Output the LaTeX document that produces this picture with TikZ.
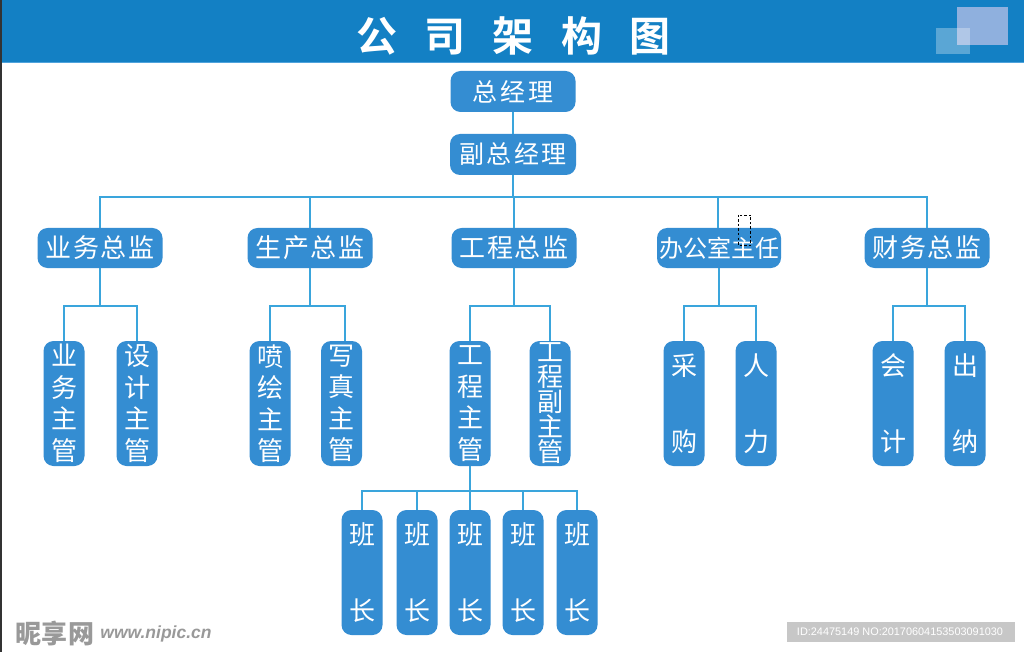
\documentclass[tikz,border=0pt]{standalone}
\usepackage{fontspec}
\newfontfamily\cjk{Noto Sans CJK SC}
\newfontfamily\cjkt[LetterSpace=67]{Noto Sans CJK SC Bold}
\newfontfamily\cjkw[LetterSpace=12]{Noto Sans CJK SC}
\newfontfamily\cjkm[LetterSpace=9]{Noto Sans CJK SC}
\newfontfamily\cjkn[LetterSpace=6]{Noto Sans CJK SC}
\setsansfont{Liberation Sans}
\definecolor{hdr}{HTML}{1380C4}
\definecolor{hdrline}{HTML}{4FA3DC}
\definecolor{boxc}{HTML}{348DD2}
\definecolor{linkc}{HTML}{3AA5DC}
\definecolor{sq}{HTML}{8FB0DE}
\tikzset{
  boxn/.style={fill=boxc,rounded corners=10pt,inner sep=0pt,text=white,align=center,anchor=center},
  hbox/.style={boxn,minimum width=125pt,minimum height=40pt},
  vbox/.style={boxn,minimum width=41pt,minimum height=125pt,font=\cjk\fontsize{26}{31.5}\selectfont},
  vwide/.style={font=\cjk\fontsize{26}{76}\selectfont},
  wide/.style={font=\cjkw\fontsize{25}{30}\selectfont},
  norm/.style={font=\cjkn\fontsize{26}{30}\selectfont},
  link/.style={draw=linkc,line width=1.5pt},
}
\begin{document}
\begin{tikzpicture}[x=1pt,y=-1pt]
\useasboundingbox (0,0) rectangle (1024,652);
\fill[white] (0,0) rectangle (1024,652);
\fill[black!80] (0,0) rectangle (1.5,652);
% header
\fill[hdr] (1.5,0) rectangle (1024,62);
\fill[hdrline] (1.5,62) rectangle (1024,63);
\fill[sq] (957,7) rectangle (1008,45);
\fill[white,opacity=.3] (936,28) rectangle (970,54);
\node[text=white,font=\cjkt\fontsize{41}{42}\selectfont,inner sep=0pt] (title) at (513.5,36) {公司架构图};
% top nodes
\node[hbox,minimum height=41pt,wide] (gm) at (513,91.5) {总经理};
\node[hbox,minimum height=41pt,font=\cjkm\fontsize{25}{30}\selectfont,minimum width=126pt] (dgm) at (513,154.5) {副总经理};
% directors
\node[hbox,norm] (d1) at (100,248) {业务总监};
\node[hbox,norm] (d2) at (310,248) {生产总监};
\node[hbox,norm] (d3) at (514,248) {工程总监};
\node[hbox,minimum width=124pt,font=\cjk\fontsize{24}{30}\selectfont] (d4) at (719,248) {办公室主任};
\node[hbox,norm] (d5) at (927,248) {财务总监};
% managers
\node[vbox] (m1) at (64,403.5) {业\\务\\主\\管};
\node[vbox] (m2) at (137,403.5) {设\\计\\主\\管};
\node[vbox] (m3) at (270,403.5) {喷\\绘\\主\\管};
\node[vbox] (m4) at (341.5,403.5) {写\\真\\主\\管};
\node[vbox] (m5) at (470,403.5) {工\\程\\主\\管};
\node[vbox,font=\cjk\fontsize{26}{25}\selectfont] (m6) at (550,403.5) {工\\程\\副\\主\\管};
\node[vbox,vwide] (m7) at (684,403.5) {采\\购};
\node[vbox,vwide] (m8) at (756,403.5) {人\\力};
\node[vbox,vwide] (m9) at (893,403.5) {会\\计};
\node[vbox,vwide] (m10) at (965,403.5) {出\\纳};
% team leaders
\node[vbox,vwide] (t1) at (362,572.5) {班\\长};
\node[vbox,vwide] (t2) at (417,572.5) {班\\长};
\node[vbox,vwide] (t3) at (470,572.5) {班\\长};
\node[vbox,vwide] (t4) at (523,572.5) {班\\长};
\node[vbox,vwide] (t5) at (577,572.5) {班\\长};
% bus coordinates
\coordinate (bus) at (513,197);
\coordinate (b1) at (100,306);
\coordinate (b2) at (310,306);
\coordinate (b3) at (514,306);
\coordinate (b4) at (719,306);
\coordinate (b5) at (927,306);
\coordinate (b6) at (470,491);
\coordinate (d4top) at (718,228);
\coordinate (m4top) at (345,341);
% connectors
\draw[link] (gm) -- (dgm);
\draw[link] (dgm.south) -- (bus);
\draw[link] (d1.north) |- (bus) -| (d5.north);
\draw[link] (d2.north) -- (d2.north |- bus);
\draw[link] (d3.north) -- (d3.north |- bus);
\draw[link] (d4top) -- (d4top |- bus);
\draw[link] (d1.south) -- (b1);
\draw[link] (d2.south) -- (b2);
\draw[link] (d3.south) -- (b3);
\draw[link] (d4.south) -- (b4);
\draw[link] (d5.south) -- (b5);
\draw[link] (m1.north) |- (b1) -| (m2.north);
\draw[link] (m3.north) |- (b2) -| (m4top);
\draw[link] (m5.north) |- (b3) -| (m6.north);
\draw[link] (m7.north) |- (b4) -| (m8.north);
\draw[link] (m9.north) |- (b5) -| (m10.north);
\draw[link] (m5.south) -- (b6);
\draw[link] (t1.north) |- (b6) -| (t5.north);
\draw[link] (t2.north) -- (t2.north |- b6);
\draw[link] (t3.north) -- (t3.north |- b6);
\draw[link] (t4.north) -- (t4.north |- b6);
% selection artefact
\draw[black,line width=.7pt,dash pattern=on 2.5pt off 2pt] (738,215) rectangle (750.5,245);
% watermarks
\node[text=black!40,font=\cjk\bfseries\fontsize{26}{28}\selectfont,inner sep=0pt] (wm) at (55,634) {昵享网};
\node[text=black!40,font=\sffamily\bfseries\itshape\fontsize{17.5}{20}\selectfont,inner sep=0pt] (url) at (156,634) {www.nipic.cn};
\fill[black!22] (787,622) rectangle (1015,642);
\node[text=white,font=\sffamily\fontsize{10.9}{14}\selectfont,inner sep=0pt] (id) at (900,632) {ID:24475149 NO:20170604153503091030};
\end{tikzpicture}
\end{document}
